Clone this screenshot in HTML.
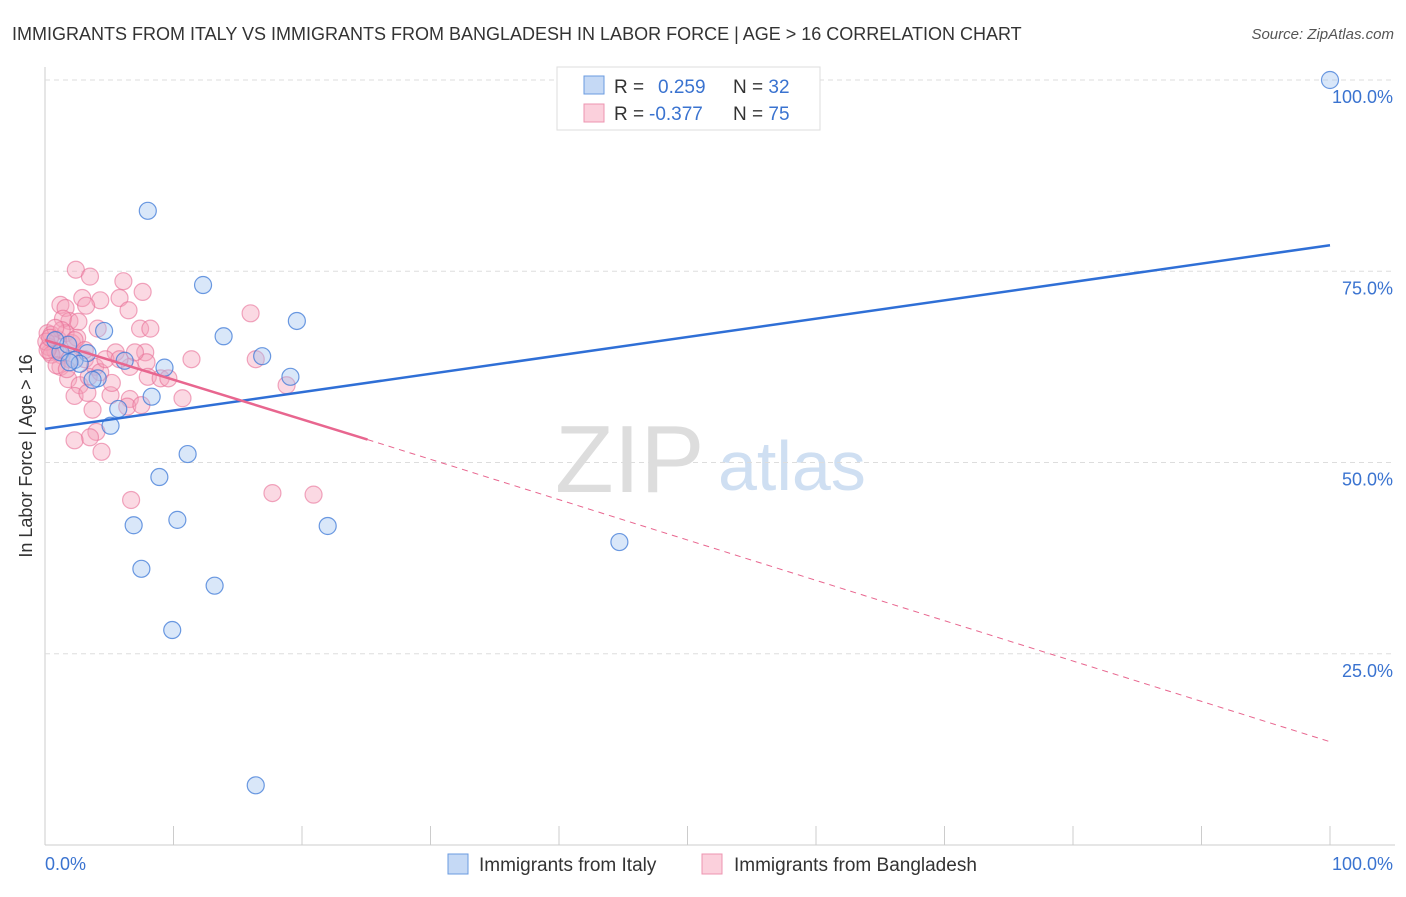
<!DOCTYPE html>
<html><head><meta charset="utf-8"><style>
body{margin:0;background:#fff;font-family:"Liberation Sans",sans-serif;}
svg text{font-family:"Liberation Sans",sans-serif;}
</style></head><body>
<svg id="c" width="1406" height="892" xmlns="http://www.w3.org/2000/svg">
<text x="12" y="40" font-size="18" fill="#333">IMMIGRANTS FROM ITALY VS IMMIGRANTS FROM BANGLADESH IN LABOR FORCE | AGE &gt; 16 CORRELATION CHART</text>
<text x="1394" y="39" font-size="15" fill="#555" text-anchor="end" font-style="italic">Source: ZipAtlas.com</text>
<text x="32" y="456" font-size="18" fill="#333" text-anchor="middle" transform="rotate(-90 32 456)">In Labor Force | Age &gt; 16</text>
<text x="555" y="492" font-size="96" fill="#ddd" font-family="Liberation Serif">ZIP</text>
<text x="718" y="490" font-size="70" fill="#cfdff2">atlas</text>
<g id="grid"></g><g id="marks"></g>
<g>
<rect x="557" y="67" width="263" height="63" fill="#fff" stroke="#ddd"/>
<rect x="584" y="76" width="20" height="18" fill="#c5d9f5" stroke="#6a9be0"/>
<rect x="584" y="104" width="20" height="18" fill="#fbd0dc" stroke="#ee94b0"/>
<text x="614" y="93" font-size="19" fill="#333">R = <tspan fill="#3a73d0" x="658">0.259</tspan><tspan fill="#333" x="733">N = </tspan><tspan fill="#3a73d0">32</tspan></text>
<text x="614" y="120" font-size="19" fill="#333">R = <tspan fill="#3a73d0" x="649">-0.377</tspan><tspan fill="#333" x="733">N = </tspan><tspan fill="#3a73d0">75</tspan></text>
</g>
<g>
<rect x="448" y="854" width="20" height="20" fill="#c5d9f5" stroke="#6a9be0"/>
<text x="479" y="871" font-size="19" fill="#333">Immigrants from Italy</text>
<rect x="702" y="854" width="20" height="20" fill="#fbd0dc" stroke="#ee94b0"/>
<text x="734" y="871" font-size="19" fill="#333">Immigrants from Bangladesh</text>
</g>
</svg>
<script>
const italyX=[100,8.0,12.3,13.9,19.6,4.6,16.9,19.1,9.3,6.2,1.2,1.8,3.3,4.1,3.7,8.3,5.7,5.1,8.9,11.1,6.9,10.3,22.0,44.7,7.5,13.2,9.9,16.4,2.3,0.8,2.7,1.9];
const italyY=[100,82.9,73.2,66.5,68.5,67.2,63.9,61.2,62.4,63.3,64.4,65.4,64.3,61.0,60.8,58.6,57.0,54.8,48.1,51.1,41.8,42.5,41.7,39.6,36.1,33.9,28.1,7.8,63.4,66.0,62.9,63.1];
const bangX=[2.4,3.5,6.1,7.6,16.0,1.2,1.6,2.9,4.3,3.2,5.8,6.5,1.9,1.4,2.6,4.1,7.4,8.2,0.2,0.5,1.0,1.6,2.1,2.5,0.4,0.8,0.3,0.1,1.3,1.9,3.1,3.9,5.5,6.6,7.8,7.9,11.4,8.0,9.0,9.6,16.4,18.8,1.2,1.8,2.7,3.4,4.3,5.1,6.6,6.4,2.3,3.3,7.5,10.7,3.7,4.0,3.5,2.3,4.4,6.7,17.7,20.9,0.5,0.2,0.9,4.7,1.3,2.3,0.8,0.4,3.1,5.8,7.0,5.2,1.7];
const bangY=[75.2,74.3,73.7,72.3,69.5,70.6,70.2,71.5,71.2,70.5,71.5,69.9,68.5,68.8,68.4,67.5,67.5,67.5,66.9,66.7,66.1,66.9,65.6,66.3,64.4,64.6,65.1,65.8,64.0,63.5,63.5,62.5,64.4,62.5,64.4,63.1,63.5,61.2,61.0,61.0,63.5,60.1,62.5,60.9,60.1,61.2,61.8,58.8,58.3,57.3,58.7,59.1,57.5,58.4,56.9,54.0,53.3,52.9,51.4,45.1,46.0,45.8,64.1,64.7,62.7,63.5,67.3,66.0,67.6,66.3,64.7,63.5,64.4,60.4,62.2];
const xTicks=[0,10,20,30,40,50,60,70,80,90,100];
const yTicks=[25,50,75,100];
const yTickLabels=["25.0%","50.0%","75.0%","100.0%"];
const xTickLabels=["0.0%","100.0%"];
const italyTrend=[0,54.4,100,78.4];
const bangTrend=[0,66.0,25.1,53.0,100,13.5];
const X=v=>45+v*12.85, Y=v=>845-v*7.65;
const NS="http://www.w3.org/2000/svg";
const grid=document.getElementById('grid'), marks=document.getElementById('marks');
function mk(p,tag,a){const e=document.createElementNS(NS,tag);for(const k in a)e.setAttribute(k,a[k]);p.appendChild(e);return e;}
let ax=mk(grid,'line',{x1:45,y1:67,x2:45,y2:845,stroke:'#ccc'});


let bx=mk(grid,'line',{x1:45,y1:845,x2:1395,y2:845,stroke:'#ccc'});


yTicks.forEach((t,i)=>{
 const g=mk(grid,'line',{x1:45,y1:Y(t),x2:1395,y2:Y(t),stroke:'#ddd','stroke-dasharray':'5,4'});
 
 
 const l=mk(grid,'text',{x:1393,y:Y(t)+23,'text-anchor':'end','font-size':18,fill:'#3a73d0'});
 l.textContent=yTickLabels[i];
 
 
});
xTicks.forEach(t=>{
 const k=mk(grid,'line',{x1:X(t),y1:826,x2:X(t),y2:845,stroke:'#ccc'});
 
 
});
const xl0=mk(grid,'text',{x:45,y:870,'font-size':18,fill:'#3a73d0'});xl0.textContent=xTickLabels[0];


const xl1=mk(grid,'text',{x:1393,y:870,'font-size':18,fill:'#3a73d0','text-anchor':'end'});xl1.textContent=xTickLabels[1];


bangX.forEach((x,i)=>{
 const c=mk(marks,'circle',{cx:X(x),cy:Y(bangY[i]),r:8.5,fill:'rgba(246,160,186,0.4)',stroke:'rgba(232,110,150,0.6)','stroke-width':1.2});
 
 
});
italyX.forEach((x,i)=>{
 const c=mk(marks,'circle',{cx:X(x),cy:Y(italyY[i]),r:8.5,fill:'rgba(160,195,240,0.4)',stroke:'rgba(60,120,215,0.75)','stroke-width':1.2});
 
 
});
const tb=mk(marks,'line',{x1:X(italyTrend[0]),y1:Y(italyTrend[1]),x2:X(italyTrend[2]),y2:Y(italyTrend[3]),stroke:'#2f6fd6','stroke-width':2.5});


const tp=mk(marks,'line',{x1:X(bangTrend[0]),y1:Y(bangTrend[1]),x2:X(bangTrend[2]),y2:Y(bangTrend[3]),stroke:'#e8668f','stroke-width':2.5});


const td=mk(marks,'line',{x1:X(bangTrend[2]),y1:Y(bangTrend[3]),x2:X(bangTrend[4]),y2:Y(bangTrend[5]),stroke:'#e8668f','stroke-width':1,'stroke-dasharray':'6,5'});


</script>
</body></html>
